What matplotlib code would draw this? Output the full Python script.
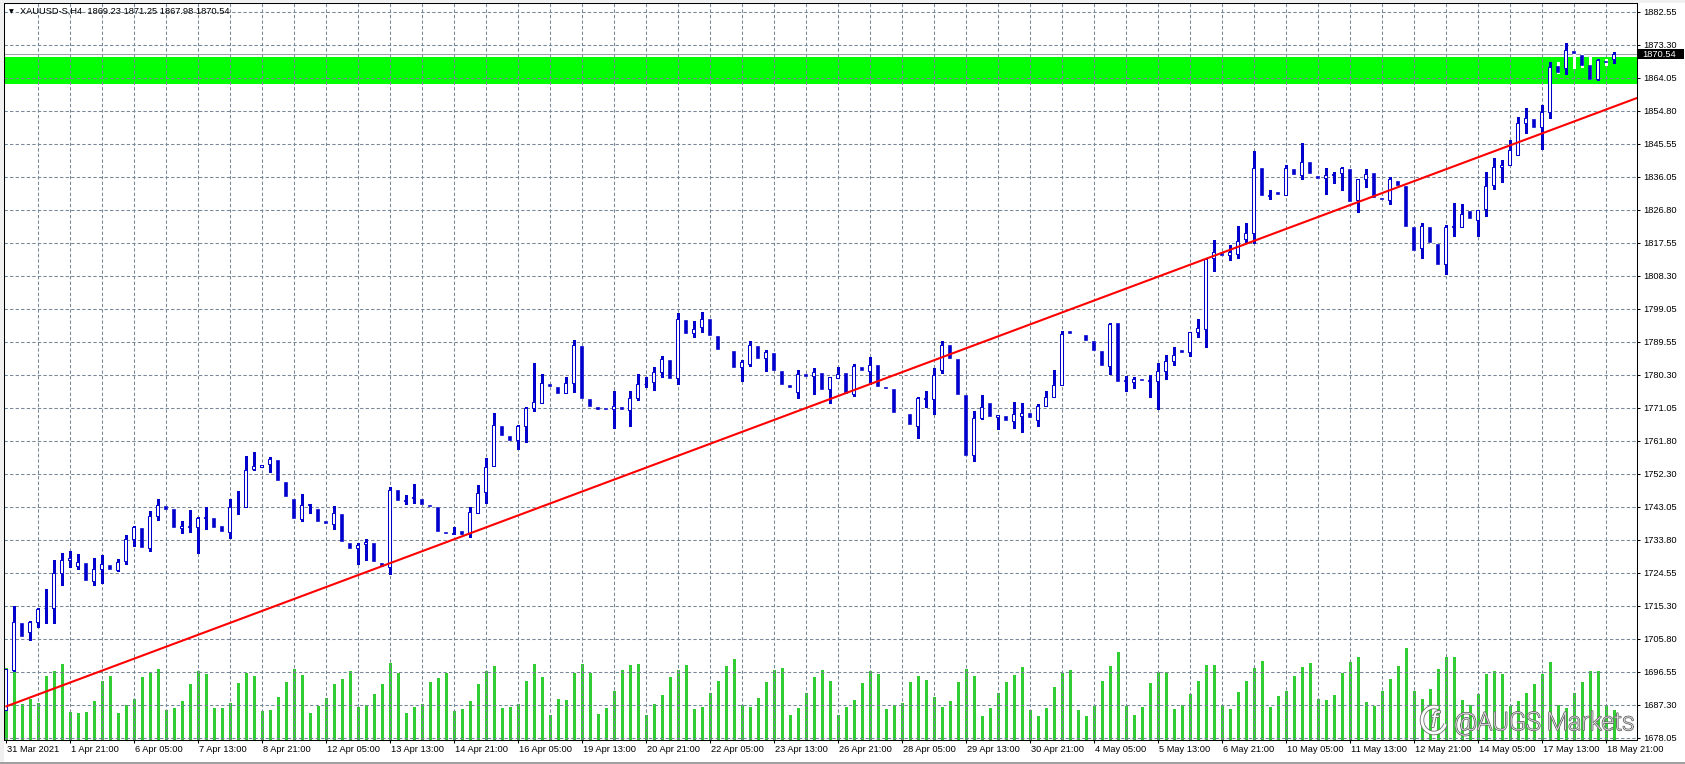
import numpy as np
import matplotlib
matplotlib.use("Agg")
import matplotlib.pyplot as plt
import matplotlib.patches as mpatches
import matplotlib.patheffects as pe
from matplotlib.transforms import blended_transform_factory, IdentityTransform, ScaledTranslation

plt.rcParams["font.family"] = ["Liberation Sans", "DejaVu Sans"]
plt.rcParams["lines.scale_dashes"] = False

# ---- data (XAUUSD-S, H4) ----
header = "XAUUSD-S,H4  1869.23 1871.25 1867.98 1870.54"

opens = [
    1685.8, 1697.1, 1710.4, 1707.8, 1710.6, 1714.5, 1714.6, 1724.4, 1728.1, 1726.3,
    1727.2, 1722.1, 1725.5, 1726.7, 1725.2, 1727.8, 1733.9, 1737.2, 1731.6, 1740.5,
    1743.3, 1742.5, 1737.1, 1737.3, 1737.3, 1739.8, 1739.9, 1737.7, 1736.0, 1743.0,
    1743.0, 1753.6, 1754.4, 1755.1, 1756.3, 1750.2, 1745.4, 1739.6, 1743.5, 1742.6,
    1739.0, 1738.3, 1741.2, 1733.0, 1731.5, 1732.7, 1733.0, 1727.4, 1726.1, 1747.9,
    1744.8, 1745.5, 1745.4, 1743.7, 1742.9, 1736.0, 1735.5, 1736.4, 1735.3, 1741.4,
    1747.2, 1754.6, 1765.9, 1763.1, 1761.9, 1765.9, 1770.9, 1772.3, 1777.8, 1776.9,
    1775.1, 1777.9, 1788.4, 1773.5, 1771.1, 1770.9, 1770.5, 1771.2, 1770.3, 1773.6,
    1777.6, 1778.3, 1781.0, 1784.3, 1779.3, 1795.7, 1792.0, 1793.8, 1796.0, 1791.2,
    1787.4, 1787.0, 1782.4, 1783.4, 1788.4, 1784.9, 1786.4, 1781.3, 1777.4, 1775.3,
    1780.5, 1779.8, 1780.8, 1776.4, 1779.5, 1780.8, 1775.0, 1782.6, 1781.4, 1782.9,
    1776.9, 1776.2, 1769.5, 1769.1, 1765.9, 1773.5, 1773.5, 1781.6, 1788.6, 1784.6,
    1774.5, 1757.7, 1768.2, 1772.2, 1768.4, 1768.6, 1767.3, 1768.8, 1769.4, 1767.6,
    1771.6, 1774.1, 1777.5, 1792.7, 1792.0, 1791.4, 1789.7, 1786.9, 1782.8, 1794.8,
    1778.4, 1778.3, 1779.0, 1778.5, 1778.5, 1781.3, 1784.1, 1787.2, 1786.6, 1792.4,
    1793.3, 1813.1, 1814.6, 1813.9, 1814.4, 1818.5, 1820.1, 1838.5, 1830.6, 1831.8,
    1830.9, 1838.2, 1836.5, 1840.2, 1836.3, 1835.6, 1836.5, 1837.0, 1838.3, 1829.4,
    1835.4, 1837.1, 1830.2, 1829.6, 1834.9, 1833.5, 1821.9, 1815.9, 1821.8, 1817.1,
    1811.4, 1821.8, 1821.8, 1826.4, 1824.0, 1826.9, 1833.6, 1838.7, 1839.5, 1842.1,
    1851.1, 1852.3, 1850.0, 1854.3, 1867.3, 1866.8, 1871.4, 1870.4, 1867.4, 1863.7,
    1868.7, 1869.23,
]
highs = [
    1697.4, 1715.1, 1710.6, 1710.8, 1714.6, 1720.0, 1728.2, 1730.1, 1730.5, 1729.8,
    1727.2, 1728.6, 1729.6, 1726.7, 1728.5, 1735.1, 1737.8, 1737.2, 1742.0, 1745.3,
    1743.3, 1742.5, 1739.2, 1742.2, 1740.1, 1743.1, 1739.9, 1737.7, 1745.4, 1747.6,
    1757.5, 1758.6, 1754.8, 1757.2, 1756.3, 1750.2, 1745.4, 1746.8, 1744.0, 1742.6,
    1739.0, 1743.2, 1741.2, 1733.0, 1733.0, 1733.9, 1733.0, 1727.4, 1748.8, 1747.9,
    1746.5, 1749.4, 1745.4, 1743.7, 1742.9, 1736.0, 1737.5, 1736.4, 1742.9, 1749.1,
    1756.7, 1769.6, 1765.9, 1763.1, 1766.0, 1771.3, 1783.7, 1780.5, 1777.8, 1776.9,
    1779.7, 1790.0, 1788.4, 1773.5, 1771.1, 1770.9, 1775.7, 1771.2, 1775.6, 1780.4,
    1779.7, 1782.5, 1785.7, 1784.3, 1797.7, 1795.7, 1795.4, 1797.9, 1796.0, 1791.2,
    1788.1, 1787.0, 1784.4, 1789.8, 1788.4, 1787.3, 1786.4, 1781.3, 1777.4, 1781.5,
    1780.5, 1782.2, 1780.8, 1779.7, 1782.5, 1780.8, 1783.4, 1782.6, 1785.4, 1782.9,
    1776.9, 1776.2, 1770.2, 1769.1, 1773.9, 1775.6, 1782.3, 1789.7, 1788.6, 1784.6,
    1774.5, 1770.0, 1774.7, 1772.2, 1768.9, 1768.6, 1772.5, 1772.2, 1769.4, 1772.0,
    1775.6, 1781.6, 1792.7, 1792.7, 1792.6, 1791.4, 1789.7, 1786.9, 1795.0, 1794.8,
    1780.0, 1779.7, 1779.0, 1780.2, 1783.5, 1785.8, 1788.0, 1787.2, 1792.3, 1796.0,
    1812.9, 1818.3, 1814.6, 1816.8, 1822.2, 1823.1, 1843.3, 1838.5, 1832.4, 1831.8,
    1839.3, 1838.2, 1845.6, 1840.2, 1836.3, 1838.6, 1837.3, 1838.9, 1838.3, 1835.4,
    1838.3, 1837.1, 1830.2, 1835.9, 1834.9, 1833.5, 1821.9, 1823.1, 1821.8, 1817.1,
    1822.4, 1828.7, 1828.4, 1826.4, 1826.6, 1837.3, 1841.3, 1840.7, 1846.3, 1852.8,
    1855.3, 1852.3, 1856.4, 1868.3, 1868.4, 1873.8, 1871.5, 1870.9, 1869.7, 1869.1,
    1869.3, 1871.25,
]
lows = [
    1685.8, 1696.9, 1706.5, 1705.6, 1709.1, 1710.4, 1710.3, 1721.2, 1726.0, 1725.7,
    1722.6, 1721.0, 1721.5, 1725.5, 1724.9, 1727.0, 1732.0, 1731.9, 1730.7, 1739.5,
    1742.4, 1737.3, 1735.6, 1736.0, 1730.2, 1736.7, 1737.3, 1736.4, 1734.3, 1741.2,
    1743.0, 1753.4, 1754.4, 1752.8, 1750.5, 1746.1, 1739.9, 1739.0, 1741.3, 1739.2,
    1738.5, 1736.7, 1733.4, 1731.6, 1727.0, 1728.0, 1727.8, 1726.3, 1724.2, 1745.0,
    1743.8, 1744.2, 1743.8, 1743.3, 1736.4, 1735.6, 1735.3, 1735.4, 1734.6, 1741.4,
    1744.3, 1754.6, 1763.2, 1762.0, 1759.5, 1761.4, 1770.1, 1772.3, 1777.1, 1775.1,
    1775.1, 1775.3, 1773.8, 1771.6, 1770.5, 1770.6, 1765.4, 1770.5, 1765.9, 1773.1,
    1776.8, 1776.0, 1779.7, 1779.5, 1777.6, 1792.1, 1790.8, 1792.4, 1791.5, 1787.6,
    1786.9, 1782.6, 1778.5, 1782.8, 1785.1, 1781.4, 1781.7, 1777.8, 1776.9, 1773.8,
    1780.0, 1774.9, 1776.4, 1772.4, 1779.5, 1775.2, 1774.4, 1781.6, 1777.6, 1777.1,
    1776.5, 1769.8, 1768.8, 1766.3, 1762.4, 1771.1, 1769.3, 1780.9, 1784.9, 1774.9,
    1757.7, 1756.0, 1767.9, 1768.7, 1764.9, 1767.6, 1765.3, 1764.2, 1768.4, 1765.9,
    1771.6, 1774.1, 1777.5, 1792.1, 1791.5, 1790.0, 1787.3, 1783.0, 1780.4, 1778.5,
    1775.8, 1776.6, 1778.7, 1774.1, 1770.6, 1779.2, 1782.9, 1786.8, 1785.7, 1790.8,
    1788.2, 1809.6, 1814.0, 1812.7, 1813.3, 1817.3, 1817.3, 1830.8, 1829.7, 1831.1,
    1830.9, 1836.7, 1835.5, 1837.0, 1835.6, 1831.3, 1834.4, 1832.4, 1829.3, 1826.2,
    1833.3, 1830.4, 1829.8, 1828.5, 1833.6, 1822.2, 1815.4, 1813.3, 1817.6, 1811.6,
    1808.6, 1819.5, 1821.8, 1824.3, 1819.5, 1825.1, 1832.7, 1834.6, 1839.5, 1842.1,
    1848.5, 1850.2, 1843.9, 1852.6, 1865.3, 1865.0, 1866.6, 1866.9, 1863.6, 1863.2,
    1867.4, 1867.98,
]
closes = [
    1697.4, 1710.6, 1706.7, 1710.6, 1714.3, 1714.6, 1724.4, 1728.1, 1728.7, 1727.5,
    1722.6, 1725.6, 1726.9, 1725.5, 1727.5, 1734.1, 1737.4, 1731.9, 1740.5, 1743.6,
    1742.4, 1737.3, 1737.7, 1737.7, 1739.9, 1740.2, 1737.3, 1736.4, 1743.0, 1743.1,
    1753.4, 1754.6, 1754.8, 1756.5, 1750.5, 1746.1, 1739.9, 1743.7, 1743.9, 1739.2,
    1738.5, 1741.4, 1733.4, 1731.6, 1732.4, 1733.3, 1727.8, 1726.3, 1747.9, 1745.0,
    1745.1, 1745.8, 1743.8, 1743.3, 1736.4, 1735.6, 1735.8, 1735.4, 1741.7, 1747.0,
    1754.4, 1766.2, 1763.2, 1762.0, 1765.9, 1770.9, 1772.7, 1778.1, 1777.1, 1775.1,
    1777.9, 1788.6, 1773.8, 1771.6, 1770.5, 1770.6, 1771.4, 1770.5, 1773.6, 1777.6,
    1777.8, 1781.0, 1784.6, 1779.5, 1795.9, 1792.1, 1793.1, 1796.1, 1791.5, 1787.6,
    1787.4, 1782.6, 1783.8, 1788.6, 1785.1, 1786.7, 1781.7, 1777.8, 1776.9, 1780.6,
    1780.0, 1781.2, 1776.4, 1779.6, 1780.4, 1775.2, 1782.8, 1781.6, 1783.1, 1777.1,
    1776.5, 1769.8, 1769.5, 1766.3, 1773.6, 1773.7, 1780.3, 1788.8, 1784.9, 1774.9,
    1757.7, 1768.0, 1771.1, 1768.7, 1768.9, 1767.6, 1769.1, 1769.6, 1768.4, 1771.6,
    1774.1, 1777.5, 1791.9, 1792.1, 1792.0, 1790.0, 1787.3, 1783.0, 1794.7, 1778.5,
    1778.7, 1779.2, 1778.7, 1778.7, 1781.3, 1784.1, 1785.8, 1786.8, 1792.3, 1793.4,
    1812.9, 1814.8, 1814.0, 1814.8, 1817.9, 1820.1, 1838.5, 1830.8, 1830.8, 1831.1,
    1838.5, 1836.7, 1840.1, 1837.0, 1835.6, 1836.5, 1836.9, 1838.5, 1829.3, 1835.4,
    1836.8, 1830.4, 1829.8, 1835.4, 1833.6, 1822.2, 1815.4, 1822.1, 1817.6, 1811.6,
    1821.8, 1822.2, 1825.5, 1824.3, 1826.6, 1833.4, 1838.7, 1839.5, 1843.5, 1851.1,
    1852.5, 1850.2, 1854.3, 1867.1, 1865.7, 1871.7, 1871.0, 1867.4, 1863.7, 1868.9,
    1868.3, 1870.54,
]
# tick volume (relative units, same scale as the screenshot)
volumes = [
    72, 83, 36, 41, 37, 64, 69, 76, 28, 27,
    28, 39, 59, 64, 27, 35, 41, 63, 68, 71,
    30, 32, 39, 56, 69, 66, 32, 32, 37, 57,
    67, 64, 29, 30, 43, 58, 71, 65, 27, 34,
    42, 56, 61, 69, 33, 35, 46, 56, 77, 67,
    27, 33, 36, 58, 62, 67, 29, 31, 39, 56,
    69, 74, 32, 33, 36, 59, 76, 63, 25, 41,
    40, 67, 76, 67, 26, 32, 49, 70, 75, 76,
    25, 36, 45, 63, 70, 75, 31, 33, 47, 59,
    74, 81, 35, 33, 42, 58, 70, 72, 25, 32,
    47, 63, 70, 59, 25, 33, 40, 57, 69, 66,
    31, 35, 37, 58, 64, 60, 43, 33, 39, 58,
    71, 64, 24, 32, 47, 58, 65, 73, 30, 24,
    32, 53, 67, 70, 30, 24, 34, 59, 74, 88,
    34, 25, 33, 57, 68, 68, 31, 35, 46, 59,
    75, 75, 35, 31, 48, 59, 72, 79, 33, 44,
    49, 64, 73, 77, 41, 40, 45, 67, 78, 83,
    38, 34, 49, 61, 74, 92, 49, 41, 51, 71,
    83, 83, 40, 35, 46, 66, 69, 66, 34, 39,
    47, 56, 66, 78, 35, 32, 47, 58, 69, 69,
    35, 30,
]

date_labels = ["31 Mar 2021", "1 Apr 21:00", "6 Apr 05:00", "7 Apr 13:00", "8 Apr 21:00",
               "12 Apr 05:00", "13 Apr 13:00", "14 Apr 21:00", "16 Apr 05:00", "19 Apr 13:00",
               "20 Apr 21:00", "22 Apr 05:00", "23 Apr 13:00", "26 Apr 21:00", "28 Apr 05:00",
               "29 Apr 13:00", "30 Apr 21:00", "4 May 05:00", "5 May 13:00", "6 May 21:00",
               "10 May 05:00", "11 May 13:00", "12 May 21:00", "14 May 05:00", "17 May 13:00",
               "18 May 21:00"]
price_labels = ["1882.55", "1873.30", "1864.05", "1854.80", "1845.55", "1836.05", "1826.80",
                "1817.55", "1808.30", "1799.05", "1789.55", "1780.30", "1771.05", "1761.80",
                "1752.30", "1743.05", "1733.80", "1724.55", "1715.30", "1705.80", "1696.55",
                "1687.30", "1678.05"]

band_low, band_high = 1862.1, 1869.8          # green rectangle
trend_a = (0, 1686.8)                         # trend line anchor points (bar, price)
trend_b = (177, 1835.6)
last_price = closes[-1]

# ---- layout (pixels of the 1685x764 screenshot) ----
W, H, DPI = 1685, 764, 100
left_px, right_px, top_px, bottom_px = 4, 1637, 3, 740
bar_px, first_bar_px = 8.0, 5.5
grid_px, first_tick_px = 33.0, 11.7

BLUE = "#0000CD"
GRID = "#778899"

o = np.array(opens); h = np.array(highs); l = np.array(lows); c = np.array(closes)
n = len(o)
x = np.arange(n)

price_ticks = np.linspace(float(price_labels[0]), float(price_labels[-1]), len(price_labels))
ppx = (price_ticks[0] - price_ticks[1]) / grid_px
y_hi = price_ticks[0] + (first_tick_px - top_px) * ppx
y_lo = price_ticks[0] - (bottom_px - first_tick_px) * ppx
x_lo = -(first_bar_px - left_px) / bar_px
x_hi = (right_px - first_bar_px) / bar_px

fig = plt.figure(figsize=(W / DPI, H / DPI), dpi=DPI, facecolor="white")
rect = [left_px / W, 1 - bottom_px / H, (right_px - left_px) / W, (bottom_px - top_px) / H]

# window chrome
fig.patches.append(mpatches.Rectangle((0, 0), 3.5 / W, 1, transform=fig.transFigure, fc="#F0F0F0", ec="none"))
fig.patches.append(mpatches.Rectangle((0, 1 - 2.5 / H), 1, 2.5 / H, transform=fig.transFigure, fc="#F0F0F0", ec="none"))
fig.patches.append(mpatches.Rectangle((0, 0), 1, 2 / H, transform=fig.transFigure, fc="#A0A0A0", ec="none"))

# volume panel underneath
vol_ax = fig.add_axes(rect)
vol_ax.set_xlim(x_lo, x_hi)
vol_ax.set_ylim(0, bottom_px - top_px)
vol_ax.set_axis_off()
vol_ax.vlines(x, 0, volumes, color="#32CD32", lw=0.75, antialiased=False)

ax = fig.add_axes(rect)
ax.patch.set_alpha(0)
ax.set_xlim(x_lo, x_hi)
ax.set_ylim(y_lo, y_hi)

ax.axhspan(band_low, band_high, color="#00FF00", lw=0, zorder=1)

grid_x = np.arange(4, x_hi, 4)
ax.vlines(grid_x, y_lo, y_hi, colors=GRID, lw=0.75, linestyles=(0, (2.4, 1.6)), zorder=1.5)
ax.hlines(price_ticks, x_lo, x_hi, colors=GRID, lw=0.75, linestyles=(0, (2.4, 1.6)), zorder=1.5)
ax.axhline(last_price, color="#9AA3AD", lw=0.75, zorder=2)

bull = c > o
bear = c < o
flat = c == o
# bull wicks in blue, bear wicks in the "bar down" colour (white)
ax.vlines(x[bull], l[bull], h[bull], color=BLUE, lw=0.75, antialiased=False, zorder=3)
ax.vlines(x[~bull], l[~bull], h[~bull], color="white", lw=0.75, antialiased=False, zorder=3)
ax.bar(x[bull], (c - o)[bull], bottom=o[bull], width=0.4, facecolor="white",
       edgecolor=BLUE, lw=0.75, zorder=4)
ax.bar(x[bear], (o - c)[bear], bottom=c[bear], width=0.3, facecolor=BLUE,
       edgecolor=BLUE, lw=0.45, zorder=4)
ax.hlines(o[flat], x[flat] - 0.2, x[flat] + 0.2, color="white", lw=0.75, zorder=4)

# trend line (ray to the right)
slope = (trend_b[1] - trend_a[1]) / (trend_b[0] - trend_a[0])
tx = np.array([trend_a[0], x_hi + 1])
ax.plot(tx, trend_a[1] + slope * (tx - trend_a[0]), color="#FF0000", lw=1.5, zorder=6,
        solid_capstyle="butt")

for side in ["left", "right", "top", "bottom"]:
    ax.spines[side].set_color("black")
    ax.spines[side].set_linewidth(0.75)
    ax.spines[side].set_zorder(7)

ax.yaxis.tick_right()
ax.set_yticks(price_ticks)
ax.set_yticklabels(price_labels)
ax.tick_params(axis="y", direction="out", length=2.2, width=0.75, pad=2.2, labelsize=6.7,
               colors="black", left=False, right=True)
ax.set_xticks(np.arange(0, 8 * len(date_labels), 8))
ax.set_xticklabels(date_labels)
ax.tick_params(axis="x", direction="out", length=2.2, width=0.75, pad=1.2, labelsize=6.7,
               colors="black", top=False)
for lbl in ax.get_xticklabels():
    lbl.set_horizontalalignment("left")
    lbl.set_transform(lbl.get_transform() + ScaledTranslation(1.5 / DPI, 0, fig.dpi_scale_trans))

# current price tag on the price scale
blend = blended_transform_factory(ax.transAxes, ax.transData)
aw = right_px - left_px
ax.add_patch(mpatches.Rectangle((1 + 1.0 / aw, last_price - 5.0 * ppx), 46.0 / aw, 10.0 * ppx,
                                transform=blend, fc="black", ec="none", clip_on=False, zorder=8))
ax.text(1 + 5.0 / aw, last_price, f"{last_price:.2f}", transform=blend, color="white",
        fontsize=6.7, va="center", ha="left", clip_on=False, zorder=9)

# header
fig.text(9 / W, 1 - first_tick_px / H, "\u25BC", fontsize=4.5, va="center", ha="left",
         family=["DejaVu Sans"], color="black")
fig.text(20 / W, 1 - first_tick_px / H, header, fontsize=6.7, va="center", ha="left", color="black")

# watermark
stroke = [pe.withStroke(linewidth=1.3, foreground="#6E6E6E")]
fig.text(1454 / W, 1 - 730 / H, "@AUGS Markets", fontsize=18, color="white",
         family=["Roboto", "DejaVu Sans"], weight="light", va="baseline", ha="left",
         path_effects=stroke, zorder=20)
logo = mpatches.Arc((1434, H - 720), 24, 26, theta1=70, theta2=340, lw=2.0, color="white",
                    transform=IdentityTransform(), zorder=20)
logo.set_path_effects([pe.Stroke(linewidth=3.2, foreground="#6E6E6E"), pe.Normal()])
fig.add_artist(logo)
fig.text(1434 / W, 1 - 721 / H, "f", fontsize=15, color="white", style="italic",
         family=["DejaVu Sans"], va="center", ha="center", path_effects=stroke, zorder=21)

fig.savefig("out.png", dpi=DPI, facecolor=fig.get_facecolor())
